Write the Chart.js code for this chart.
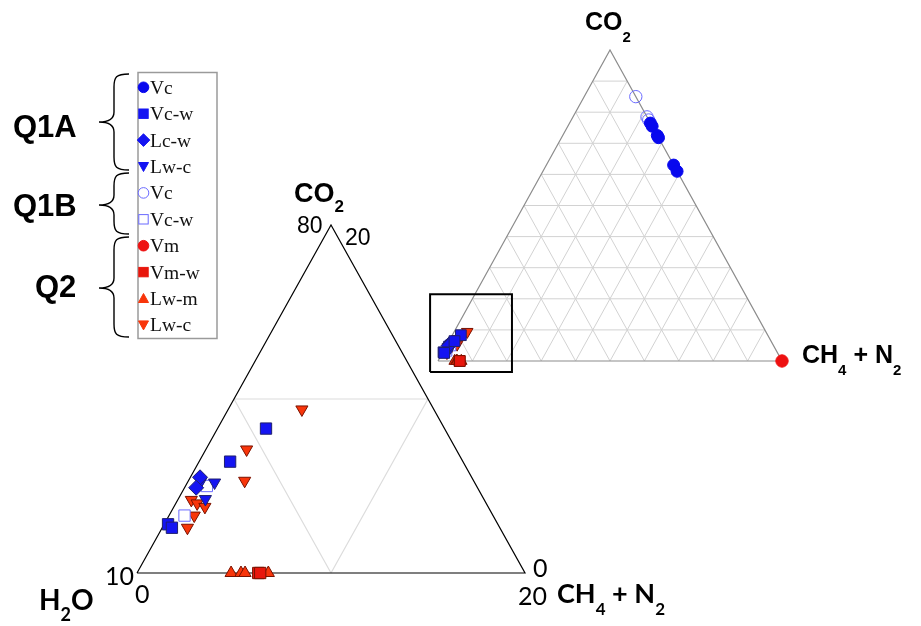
<!DOCTYPE html>
<html>
<head>
<meta charset="utf-8">
<script src="https://cdn.jsdelivr.net/npm/chart.js@4.4.1/dist/chart.umd.min.js"></script>
<style>
html,body{margin:0;padding:0;background:#fff;width:921px;height:626px;overflow:hidden;}
#wrap{position:relative;width:921px;height:626px;}
canvas{position:absolute;}
#cL{left:117px;top:205px;}
#cR{left:418px;top:30px;}
#ov{position:absolute;left:0;top:0;pointer-events:none;}
</style>
</head>
<body>
<div id="wrap">
<canvas id="cL" width="428" height="388"></canvas>
<canvas id="cR" width="384" height="351"></canvas>
<svg id="ov" width="921" height="626" xmlns="http://www.w3.org/2000/svg"></svg>
</div>
<script>
// ---------------- DATA (each sample: [CO2 %, CH4+N2 %]; H2O = 100 - CO2 - CH4+N2) ----------------
const components = ['H2O', 'CO2', 'CH4 + N2'];
const groups = ['Q1A', 'Q1B', 'Q2'];
const legendLabels = ['Vc', 'Vc-w', 'Lc-w', 'Lw-c', 'Vc', 'Vc-w', 'Vm', 'Vm-w', 'Lw-m', 'Lw-c'];

const q1aVc  = [[76.5, 23.5], [75.5, 24.5], [72.5, 27.5], [71.8, 28.2], [63, 37], [61, 39]];
const q1aVcw = [[8.3, 2.5], [6.4, 1.6], [2.8, 0.2], [2.6, 0.5]];
const q1aLcw = [[5.5, 0.5], [4.9, 0.6]];
const q1aLwc = [[5.2, 1.4], [5.25, 0.66], [4.25, 1.4]];
const q1bVc  = [[85, 15], [78.5, 21.5], [77.5, 22.5]];
const q1bVcw = [[5.0, 1.1], [3.3, 0.8]];
const q2Vm   = [[0, 100]];
const q2Vmw  = [[0, 6.25], [0, 6.35]];
const q2Lwm  = [[0, 4.85], [0, 5.36], [0, 5.57], [0, 6.77]];
const q2Lwc  = [[9.4, 3.8], [7.1, 2.1], [5.3, 2.9], [4.2, 0.7], [4.0, 1.1], [3.8, 1.6], [3.3, 1.3], [2.6, 1.3]];

const fullRange = 100;                 // main diagram (0-100 %)
const zoomRange = 20;                  // enlarged corner (H2O 80-100 %)
const mainGridTicks = [10, 20, 30, 40, 50, 60, 70, 80, 90];
const zoomGridTicks = [10];
const zoomCornerLabels = ['80', '20', '10', '0', '0', '20']; // apex(H2O), apex(CO2), left(H2O), left(CH4+N2), right(CO2), right(CH4+N2)

// ---------------- STYLES ----------------
const BLUE = '#1414f2', BLUE_EDGE = '#20206e', BLUE_OPEN = '#6a6aff';
const RED = '#f8350a', RED_EDGE = '#7a1200', RED_DOT = '#ee1111';

const seriesDefs = [
  {group: 0, label: 0, data: q1aVc,  shape: 'circle',   rot: 0,   fill: '#0808ee', edge: '#0808ee', r: 6.3},
  {group: 0, label: 1, data: q1aVcw, shape: 'rect',     rot: 0,   fill: BLUE, edge: BLUE_EDGE, r: 8},
  {group: 0, label: 2, data: q1aLcw, shape: 'rectRot',  rot: 0,   fill: BLUE, edge: BLUE_EDGE, r: 7.5},
  {group: 0, label: 3, data: q1aLwc, shape: 'triangle', rot: 180, fill: BLUE, edge: BLUE_EDGE, r: 7},
  {group: 1, label: 4, data: q1bVc,  shape: 'circle',   rot: 0,   fill: 'rgba(255,255,255,0)', edge: BLUE_OPEN, r: 6.5},
  {group: 1, label: 5, data: q1bVcw, shape: 'rect',     rot: 0,   fill: '#ffffff', edge: BLUE_OPEN, r: 8},
  {group: 2, label: 6, data: q2Vm,   shape: 'circle',   rot: 0,   fill: RED_DOT, edge: RED_DOT, r: 6.5},
  {group: 2, label: 7, data: q2Vmw,  shape: 'rect',     rot: 0,   fill: '#e8160c', edge: RED_EDGE, r: 8},
  {group: 2, label: 8, data: q2Lwm,  shape: 'triangle', rot: 0,   fill: RED, edge: RED_EDGE, r: 7},
  {group: 2, label: 9, data: q2Lwc,  shape: 'triangle', rot: 180, fill: RED, edge: RED_EDGE, r: 7}
];

// ternary -> cartesian (H2O at bottom-left, CH4+N2 bottom-right, CO2 apex)
function toXY(co2, ch4) { return {x: ch4 + co2 / 2, y: co2}; }
const GAP = {x: null, y: null};

function gridData(range, ticks) {
  const pts = [];
  ticks.forEach(t => {
    pts.push(toXY(t, 0), toXY(t, range - t), GAP);      // constant CO2
    pts.push(toXY(0, t), toXY(range - t, t), GAP);      // constant CH4+N2
    pts.push(toXY(0, t), toXY(t, 0), GAP);              // constant H2O
  });
  return pts;
}
function outlineData(range) {
  return [toXY(0, 0), toXY(0, range), toXY(range, 0), toXY(0, 0)];
}

function markerDatasets(range, scale) {
  return seriesDefs.map((s, i) => ({
    type: 'scatter',
    label: groups[s.group] + ' ' + legendLabels[s.label],
    data: s.data.filter(p => p[0] + p[1] <= range + 1e-9).map(p => toXY(p[0], p[1])),
    pointStyle: s.shape,
    rotation: s.rot,
    pointRadius: s.r * scale,
    backgroundColor: s.fill,
    borderColor: s.edge,
    borderWidth: 1,
    clip: false,
    order: i
  }));
}

function lineDs(data, color, width, order) {
  return {type: 'scatter', data, showLine: true, spanGaps: false, pointRadius: 0,
          borderColor: color, borderWidth: width, backgroundColor: color, clip: false, order};
}

function baseOptions(range) {
  return {
    responsive: false, animation: false, events: [],
    layout: {padding: 20},
    plugins: {legend: {display: false}, tooltip: {enabled: false}},
    scales: {
      x: {type: 'linear', min: 0, max: range, display: false},
      y: {type: 'linear', min: 0, max: range, display: false}
    }
  };
}

// Zoom box around the enlarged corner, drawn on the main diagram
const boxPad = {left: 2.3, right: 1.5, top: 1.5, bottom: 3.5};
const zoomBox = [
  {x: -boxPad.left, y: -boxPad.bottom}, {x: zoomRange + boxPad.right, y: -boxPad.bottom},
  {x: zoomRange + boxPad.right, y: zoomRange + boxPad.top}, {x: -boxPad.left, y: zoomRange + boxPad.top},
  {x: -boxPad.left, y: -boxPad.bottom}
];

// Main (right) diagram
new Chart(document.getElementById('cR'), {
  type: 'scatter',
  data: {datasets: [
    lineDs(gridData(fullRange, mainGridTicks), '#d2d2d2', 1, 100),
    lineDs(outlineData(fullRange), '#8c8c8c', 1.2, 99),
    ...markerDatasets(fullRange, 0.95),
    lineDs(zoomBox, '#000000', 2, -1)
  ]},
  options: baseOptions(fullRange)
});

// Enlarged (left) diagram
new Chart(document.getElementById('cL'), {
  type: 'scatter',
  data: {datasets: [
    lineDs(gridData(zoomRange, zoomGridTicks), '#dcdcdc', 1.2, 100),
    lineDs(outlineData(zoomRange), '#000000', 1.2, 99),
    ...markerDatasets(zoomRange, 1)
  ]},
  options: baseOptions(zoomRange)
});

// ---------------- Overlay: texts, legend, braces ----------------
(function () {
  let s = '';
  const AR = 'font-family="Liberation Sans, Arial, sans-serif"';
  const LA = 'font-family="Lato, Carlito, sans-serif"';
  // legend box
  s += '<rect x="138" y="72.5" width="79" height="266" fill="#fff" stroke="#9a9a9a" stroke-width="1.5"/>';
  seriesDefs.forEach((d, i) => {
    const cx = 143.5, cy = 87.3 + i * 26.4;
    const open = d.edge === BLUE_OPEN;
    const fill = open ? '#ffffff' : d.fill;
    const st = `fill="${fill}" stroke="${open ? BLUE_OPEN : d.fill}" stroke-width="1"`;
    if (d.shape === 'circle') s += `<circle cx="${cx}" cy="${cy}" r="5.3" ${st}/>`;
    else if (d.shape === 'rect') s += `<rect x="${cx - 4.7}" y="${cy - 4.7}" width="9.4" height="9.4" ${st}/>`;
    else if (d.shape === 'rectRot') s += `<polygon points="${cx - 6.3},${cy} ${cx},${cy - 6.3} ${cx + 6.3},${cy} ${cx},${cy + 6.3}" ${st}/>`;
    else if (d.rot === 180) s += `<polygon points="${cx - 5},${cy - 4} ${cx + 5},${cy - 4} ${cx},${cy + 5}" ${st}/>`;
    else s += `<polygon points="${cx - 5},${cy + 4} ${cx + 5},${cy + 4} ${cx},${cy - 5}" ${st}/>`;
    s += `<text x="150" y="${cy + 6.5}" font-family="Liberation Serif, Times New Roman, serif" font-size="19.5" fill="#111">${legendLabels[d.label]}</text>`;
  });
  // braces
  function brace(y0, ym, y1) {
    const xr = 129, xm = 114, xt = 99;
    return `<path d="M${xr},${y0} C${xm + 2},${y0} ${xm},${y0 + 3} ${xm},${y0 + 13} L${xm},${ym - 10} C${xm},${ym - 3} ${xm - 5},${ym} ${xt},${ym} C${xm - 5},${ym} ${xm},${ym + 3} ${xm},${ym + 10} L${xm},${y1 - 13} C${xm},${y1 - 3} ${xm + 2},${y1} ${xr},${y1}" fill="none" stroke="#000" stroke-width="1.4"/>`;
  }
  s += brace(74, 122, 170) + brace(173, 205, 234) + brace(237, 288, 337);
  // group labels
  s += `<text x="13" y="137" ${AR} font-weight="bold" font-size="31" fill="#000">${groups[0]}</text>`;
  s += `<text x="13" y="216" ${AR} font-weight="bold" font-size="31" fill="#000">${groups[1]}</text>`;
  s += `<text x="35" y="297" ${AR} font-weight="bold" font-size="31" fill="#000">${groups[2]}</text>`;
  // main diagram labels
  s += `<text x="585" y="30" ${AR} font-weight="bold" font-size="25" fill="#000">CO<tspan dy="12" font-size="15">2</tspan></text>`;
  s += `<text x="802" y="363" ${AR} font-weight="bold" font-size="25" fill="#000" style="white-space:pre">CH<tspan dy="12" font-size="15">4</tspan><tspan dy="-12"> + N</tspan><tspan dy="12" font-size="15">2</tspan></text>`;
  // enlarged diagram labels
  s += `<text x="294" y="202" ${AR} font-weight="bold" font-size="27" fill="#000">CO<tspan dy="10" font-size="17">2</tspan></text>`;
  s += `<text x="297" y="233" ${AR} font-size="23" fill="#000">${zoomCornerLabels[0]}</text>`;
  s += `<text x="345" y="245" ${AR} font-size="23" fill="#000">${zoomCornerLabels[1]}</text>`;
  s += `<text x="105" y="585" ${LA} font-size="25" fill="#000">${zoomCornerLabels[2]}</text>`;
  s += `<text x="135" y="603" ${LA} font-size="25" fill="#000">${zoomCornerLabels[3]}</text>`;
  s += `<text x="533" y="577" ${LA} font-size="25" fill="#000">${zoomCornerLabels[4]}</text>`;
  s += `<text x="518" y="605" ${LA} font-size="25" fill="#000">${zoomCornerLabels[5]}</text>`;
  s += `<text x="39" y="610" ${LA} font-weight="bold" font-size="28" fill="#000">H<tspan dy="11" font-size="18">2</tspan><tspan dy="-11">O</tspan></text>`;
  s += `<text x="557" y="603" ${LA} font-weight="bold" font-size="27" fill="#000" style="white-space:pre">CH<tspan dy="12" font-size="17">4</tspan><tspan dy="-12"> + N</tspan><tspan dy="12" font-size="17">2</tspan></text>`;
  document.getElementById('ov').innerHTML = s;
})();
</script>
</body>
</html>
